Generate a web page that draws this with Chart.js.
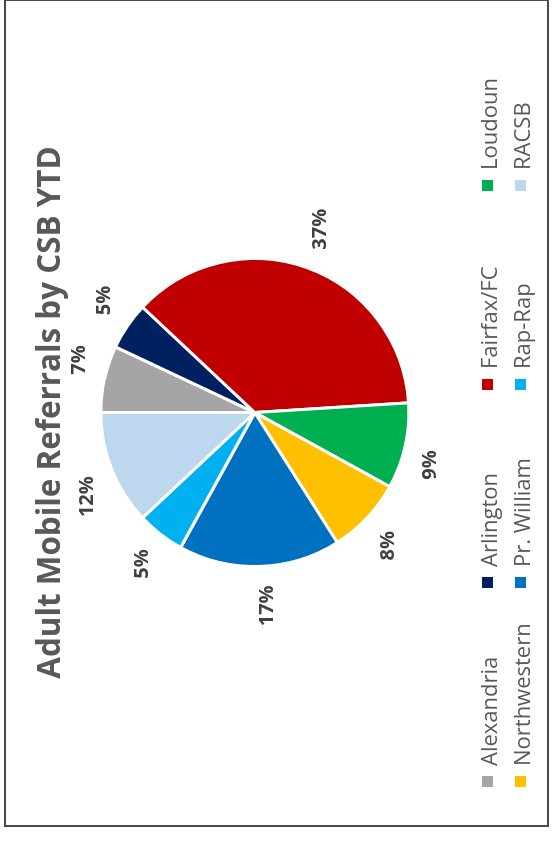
<!DOCTYPE html>
<html>
<head>
<meta charset="utf-8">
<title>Adult Mobile Referrals by CSB YTD</title>
<script src="https://cdn.jsdelivr.net/npm/chart.js@4"></script>
<style>
  html, body { margin: 0; padding: 0; background: #fff; width: 553px; height: 845px; overflow: hidden; }
  #frame {
    position: absolute; left: 4px; top: -1px; width: 545px; height: 828px;
    box-sizing: border-box; border: 2px solid #4a4a4a;
  }
  /* the whole chart is turned a quarter turn counter-clockwise */
  #rot {
    position: absolute; left: 0; top: 0; width: 828px; height: 543px;
    transform-origin: 0 0; transform: translate(5px, 828px) rotate(-90deg);
    font-family: 'Open Sans', sans-serif;
  }
  #rot canvas { position: absolute; left: 0; top: 0; }
  .lg {
    position: absolute; height: 32px; display: flex; align-items: center;
    font-size: 22px; color: #595959; white-space: nowrap; line-height: 1;
  }
  .lg i { display: inline-block; width: 11px; height: 11px; margin-right: 10px; }
</style>
</head>
<body>
<div id="frame"></div>
<div id="rot">
  <canvas id="pie" width="828" height="543"></canvas>
</div>
<script>
// Data (percent of YTD referrals)
const csbNames = ['Alexandria', 'Arlington', 'Fairfax/FC', 'Loudoun', 'Northwestern', 'Pr. William', 'Rap-Rap', 'RACSB'];
const referralShare = [7, 5, 37, 9, 8, 17, 5, 12];
const sliceColors = ['#A5A5A5', '#002060', '#C00000', '#00B050', '#FFC000', '#0070C0', '#00B0F0', '#BDD7EE'];

const TITLE = 'Adult Mobile Referrals by CSB YTD';
const FONT = "'Open Sans', sans-serif";

// Percent labels outside each slice end (label corner sits on the anchor, like Excel)
const outsideLabels = {
  id: 'outsideLabels',
  afterDatasetsDraw(chart) {
    const ctx = chart.ctx;
    const data = chart.data.datasets[0].data;
    const total = data.reduce((a, b) => a + b, 0);
    const meta = chart.getDatasetMeta(0);
    ctx.save();
    ctx.font = 'bold 20px ' + FONT;
    ctx.fillStyle = '#404040';
    ctx.textAlign = 'center';
    ctx.textBaseline = 'middle';
    meta.data.forEach((arc, i) => {
      const p = arc.getProps(['x', 'y', 'startAngle', 'endAngle', 'outerRadius'], true);
      const mid = (p.startAngle + p.endAngle) / 2;
      const txt = Math.round(data[i] / total * 100) + '%';
      const w = ctx.measureText(txt).width;
      const h = 14;
      const cx = Math.cos(mid), cy = Math.sin(mid);
      const r = p.outerRadius + 19;
      const x = p.x + cx * r + Math.sign(cx) * w / 2;
      const y = p.y + cy * r + Math.sign(cy) * h / 2;
      ctx.fillText(txt, x, y);
    });
    ctx.restore();
  }
};

new Chart(document.getElementById('pie'), {
  type: 'pie',
  data: {
    labels: csbNames,
    datasets: [{
      data: referralShare,
      backgroundColor: sliceColors,
      borderColor: '#ffffff',
      borderWidth: 3,
      radius: 154
    }]
  },
  options: {
    responsive: false,
    animation: false,
    layout: { padding: { top: 8, bottom: 108, left: 3, right: 0 } },
    plugins: {
      legend: { display: false },
      tooltip: { enabled: false },
      title: {
        display: true,
        text: TITLE,
        color: '#595959',
        font: { family: FONT, size: 31.4, weight: 'bold' },
        padding: { top: 19, bottom: 0 }
      }
    }
  },
  plugins: [outsideLabels]
});

// Legend in two rows, four aligned columns
const legendCols = [41, 240, 438, 637];
const legendRows = [482.5, 515.5];
const rot = document.getElementById('rot');
csbNames.forEach((name, i) => {
  const el = document.createElement('div');
  el.className = 'lg';
  el.style.left = legendCols[i % 4] + 'px';
  el.style.top = (legendRows[Math.floor(i / 4)] - 16) + 'px';
  el.innerHTML = '<i style="background:' + sliceColors[i] + '"></i>' + name;
  rot.appendChild(el);
});
</script>
</body>
</html>
